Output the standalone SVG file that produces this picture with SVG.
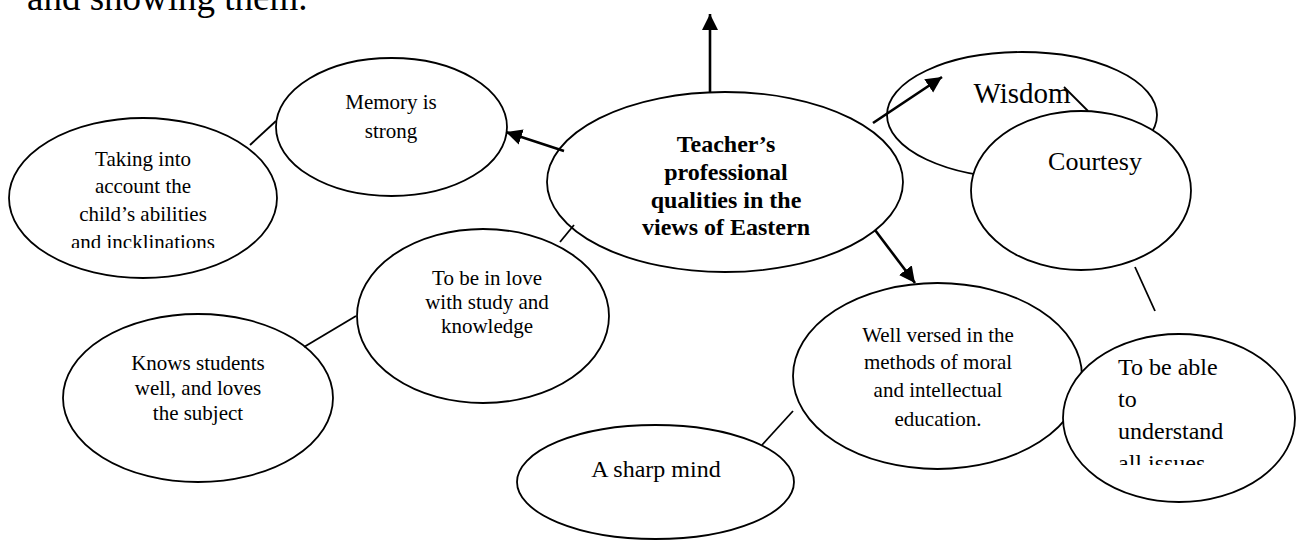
<svg xmlns="http://www.w3.org/2000/svg" width="1296" height="541" viewBox="0 0 1296 541">
<style>
.n{fill:#fff;stroke:#000;stroke-width:1.8}
.t{font-family:"Liberation Serif","Times New Roman",serif;font-size:21px;fill:#000;text-anchor:middle}
.b{font-weight:bold;font-size:24px}
.c{stroke:#000;stroke-width:1.8;fill:none}
.a{stroke:#000;stroke-width:2.6;fill:none;marker-end:url(#ah)}
</style>
<defs>
<marker id="ah" markerUnits="userSpaceOnUse" markerWidth="18" markerHeight="18" viewBox="0 0 18 18" refX="16" refY="8" orient="auto">
<path d="M0,0 L16,8 L0,16 Z" fill="#000"/>
</marker>
<clipPath id="clipTaking"><rect x="0" y="100" width="300" height="148"/></clipPath>
<clipPath id="clipAble"><rect x="1060" y="330" width="236" height="135"/></clipPath>
</defs>
<text x="27" y="10" style="font-family:'Liberation Serif','Times New Roman',serif;font-size:37px">and showing them.</text>
<g id="n-taking">
<ellipse class="n" cx="143" cy="198" rx="134" ry="80"/>
<g clip-path="url(#clipTaking)">
<text class="t" x="143" y="166">Taking into</text>
<text class="t" x="143" y="193">account the</text>
<text class="t" x="143" y="221">child’s abilities</text>
<text class="t" x="143" y="249">and incklinations</text>
</g>
</g>
<g id="n-memory">
<ellipse class="n" cx="391.5" cy="127" rx="115.5" ry="69"/>
<text class="t" x="391" y="109">Memory is</text>
<text class="t" x="391" y="138">strong</text>
</g>
<g id="n-central">
<ellipse class="n" cx="725" cy="182" rx="178" ry="90"/>
<text class="t b" x="726" y="152">Teacher’s</text>
<text class="t b" x="726" y="180">professional</text>
<text class="t b" x="726" y="208">qualities in the</text>
<text class="t b" x="726" y="235">views of Eastern</text>
</g>
<g id="n-wisdom">
<ellipse class="n" cx="1022" cy="115" rx="135" ry="63"/>
<text class="t" x="1022" y="103" style="font-size:29px">Wisdom</text>
</g>
<g id="n-courtesy">
<ellipse class="n" cx="1081" cy="190.5" rx="110" ry="79.5"/>
<text class="t" x="1095" y="170" style="font-size:26px">Courtesy</text>
</g>
<g id="n-love">
<ellipse class="n" cx="483" cy="316" rx="126" ry="87"/>
<text class="t" x="487" y="285">To be in love</text>
<text class="t" x="487" y="309">with study and</text>
<text class="t" x="487" y="333">knowledge</text>
</g>
<g id="n-knows">
<ellipse class="n" cx="198" cy="398" rx="135" ry="84"/>
<text class="t" x="198" y="370">Knows students</text>
<text class="t" x="198" y="395">well, and loves</text>
<text class="t" x="198" y="420">the subject</text>
</g>
<g id="n-sharp">
<ellipse class="n" cx="655.5" cy="482" rx="138.5" ry="57"/>
<text class="t" x="656" y="477" style="font-size:24px">A sharp mind</text>
</g>
<g id="n-versed">
<ellipse class="n" cx="937.5" cy="376" rx="144.5" ry="93"/>
<text class="t" x="938" y="342">Well versed in the</text>
<text class="t" x="938" y="369">methods of moral</text>
<text class="t" x="938" y="397">and intellectual</text>
<text class="t" x="938" y="426">education.</text>
</g>
<g id="n-able">
<ellipse class="n" cx="1179" cy="418" rx="116" ry="84"/>
<g clip-path="url(#clipAble)" style="font-family:'Liberation Serif','Times New Roman',serif;font-size:24px">
<text x="1118" y="375">To be able</text>
<text x="1118" y="407">to</text>
<text x="1118" y="439">understand</text>
<text x="1118" y="471">all issues</text>
</g>
</g>
<g id="connectors">
<line class="a" x1="710" y1="92" x2="710" y2="14"/>
<line class="a" x1="564" y1="151" x2="506" y2="132"/>
<line class="a" x1="873" y1="123" x2="942" y2="77"/>
<line class="a" x1="875" y1="230" x2="915" y2="283"/>
<line class="c" x1="250" y1="145" x2="276" y2="121"/>
<line class="c" x1="560" y1="242" x2="574" y2="225"/>
<line class="c" x1="356" y1="316" x2="304" y2="347"/>
<line class="c" x1="793" y1="411" x2="762" y2="445"/>
<line class="c" x1="1064" y1="87" x2="1088" y2="111"/>
<line class="c" x1="1135" y1="267" x2="1155" y2="311"/>
</g>
</svg>
